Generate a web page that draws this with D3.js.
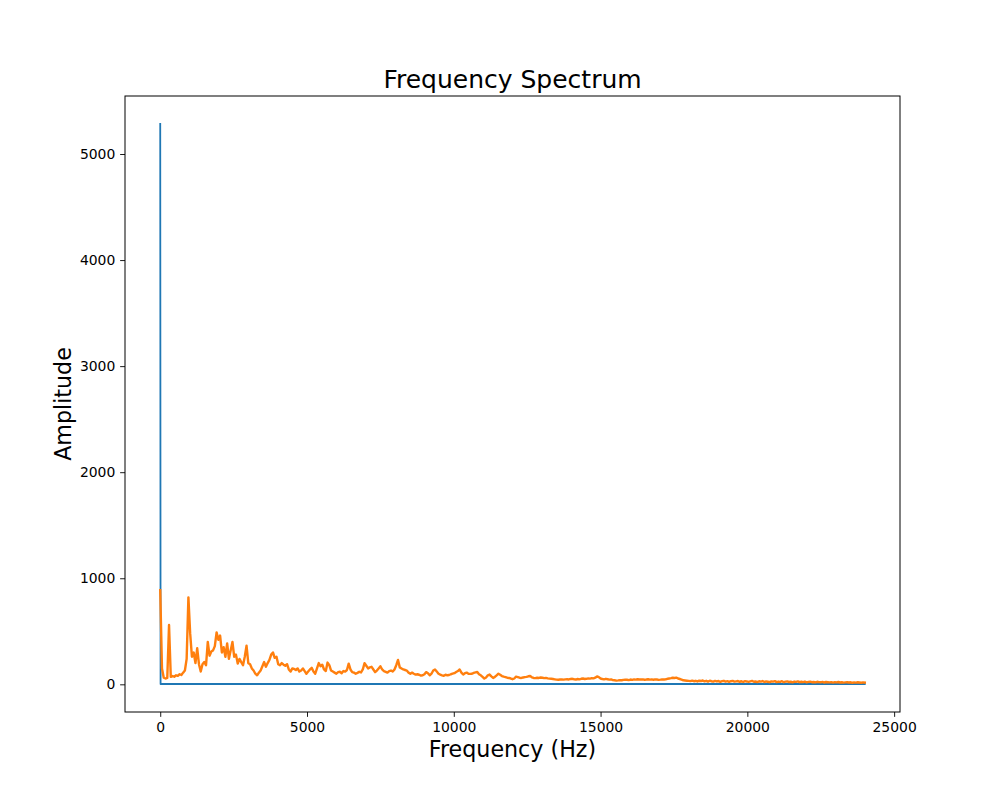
<!DOCTYPE html>
<html>
<head>
<meta charset="utf-8">
<script src="https://cdn.jsdelivr.net/npm/d3@7/dist/d3.min.js"></script>
<style>
  html, body { margin: 0; padding: 0; background: #fff; }
  svg { display: block; }
  text { font-family: "DejaVu Sans", sans-serif; fill: #000; }
</style>
</head>
<body>
<svg id="chart" width="1000" height="800"></svg>
<script>
// ---- Data ----
const title = "Frequency Spectrum";
const xLabel = "Frequency (Hz)";
const yLabel = "Amplitude";
const xTicks = [0, 5000, 10000, 15000, 20000, 25000];
const yTicks = [0, 1000, 2000, 3000, 4000, 5000];

// Blue series: DC spike then flat near zero
const blueFreq = [0, 12, 24000];
const blueAmp = [5283, 3, 3];

// Orange series: amplitude per 60 Hz bin, 0 .. 24000 Hz
const orangeBinHz = 60;
const orangeAmp = [
  887,150,62,55,60,560,70,78,72,85,80,95,88,110,130,240,820,480,260,300,
  200,340,190,120,190,210,180,400,270,310,320,360,490,420,460,300,350,260,385,240,
  320,400,260,280,195,240,210,180,260,365,200,190,150,130,100,85,110,130,170,210,
  165,200,230,280,300,250,260,190,180,200,185,175,190,140,120,150,145,135,150,120,
  130,150,125,100,120,140,155,120,100,150,200,170,185,140,125,205,180,130,120,110,
  100,115,118,105,125,120,135,195,140,115,110,100,108,118,112,140,200,175,150,160,
  165,140,115,130,150,170,140,125,118,110,125,130,120,140,180,230,160,150,140,135,
  130,110,100,110,100,92,95,90,82,85,95,115,105,85,100,130,140,120,100,92,
  85,80,90,85,88,95,100,105,116,125,140,110,92,105,110,100,98,100,108,112,
  116,95,85,70,55,65,85,92,75,60,70,85,100,90,78,72,68,62,60,55,
  48,55,72,68,62,60,64,68,70,76,78,66,60,58,62,60,64,62,58,60,
  56,54,52,50,47,44,43,45,46,44,47,48,46,50,52,48,45,50,47,52,
  55,50,52,56,54,58,56,62,75,68,55,50,47,52,48,44,46,40,38,35,
  37,40,38,42,44,43,40,45,42,46,44,48,45,47,46,43,45,48,44,46,
  43,47,45,42,44,47,45,48,52,55,58,62,60,63,55,50,45,38,36,34,
  32,30,35,29,33,27,34,31,36,28,33,26,34,29,25,32,27,31,24,30,
  33,26,30,23,29,32,25,28,31,24,29,22,30,27,23,28,32,24,27,21,
  29,25,31,22,27,24,20,28,25,30,21,26,23,29,20,25,27,22,24,19,
  26,23,28,20,24,21,26,19,23,25,20,22,18,24,21,19,23,17,22,20,
  18,21,16,20,18,22,17,19,16,18,20,17,19,15,18,16,19,17,15,18,
  16
];

// ---- Layout (matplotlib default 10x8 figure) ----
const W = 1000, H = 800;
const margin = { left: 125, right: 100, top: 96, bottom: 88 };
const x0 = margin.left, x1 = W - margin.right;
const y0 = margin.top, y1 = H - margin.bottom;

const orange = orangeAmp.map((v, i) => ({ f: i * orangeBinHz, a: v }));
const blue = blueFreq.map((f, i) => ({ f: f, a: blueAmp[i] }));

const allF = orange.map(d => d.f).concat(blue.map(d => d.f));
const allA = orange.map(d => d.a).concat(blue.map(d => d.a));
const fMin = d3.min(allF), fMax = d3.max(allF);
const aMin = d3.min(allA), aMax = d3.max(allA);
const fPad = (fMax - fMin) * 0.05, aPad = (aMax - aMin) * 0.05;

const x = d3.scaleLinear().domain([fMin - fPad, fMax + fPad]).range([x0, x1]);
const y = d3.scaleLinear().domain([aMin - aPad, aMax + aPad]).range([y1, y0]);

const svg = d3.select("#chart");
svg.append("rect").attr("width", W).attr("height", H).attr("fill", "#fff");

svg.append("clipPath").attr("id", "clip")
  .append("rect").attr("x", x0).attr("y", y0).attr("width", x1 - x0).attr("height", y1 - y0);

const line = d3.line().x(d => x(d.f)).y(d => y(d.a));
const plot = svg.append("g").attr("clip-path", "url(#clip)");
plot.append("path").datum(blue).attr("d", line)
  .attr("fill", "none").attr("stroke", "#1f77b4").attr("stroke-width", 1.8)
  .attr("stroke-linejoin", "round").attr("stroke-linecap", "square");
plot.append("path").datum(orange).attr("d", line)
  .attr("fill", "none").attr("stroke", "#ff7f0e").attr("stroke-width", 2.4)
  .attr("stroke-linejoin", "round").attr("stroke-linecap", "square");

// Axes
const tickLen = 4.86, tickPad = 4.86;
const xAxis = d3.axisBottom(x).tickValues(xTicks).tickFormat(d3.format("d"))
  .tickSizeInner(tickLen).tickSizeOuter(0).tickPadding(tickPad);
const yAxis = d3.axisLeft(y).tickValues(yTicks).tickFormat(d3.format("d"))
  .tickSizeInner(tickLen).tickSizeOuter(0).tickPadding(tickPad);

const gx = svg.append("g").attr("transform", `translate(0,${y1})`).call(xAxis);
const gy = svg.append("g").attr("transform", `translate(${x0},0)`).call(yAxis);
[gx, gy].forEach(g => {
  g.select(".domain").remove();
  g.selectAll(".tick line").attr("stroke", "#000").attr("stroke-width", 0.9);
  g.selectAll(".tick text").attr("font-size", "13.9px")
    .attr("font-family", "DejaVu Sans, sans-serif").attr("fill", "#000");
});

// Frame
svg.append("rect").attr("x", x0).attr("y", y0).attr("width", x1 - x0).attr("height", y1 - y0)
  .attr("fill", "none").attr("stroke", "#000").attr("stroke-width", 1);

// Labels
svg.append("text").attr("x", (x0 + x1) / 2).attr("y", y0 - 8.5)
  .attr("text-anchor", "middle").attr("font-size", "25px").text(title);
svg.append("text").attr("x", (x0 + x1) / 2).attr("y", 757)
  .attr("text-anchor", "middle").attr("font-size", "22.2px").text(xLabel);
svg.append("text").attr("transform", `translate(71,${(y0 + y1) / 2}) rotate(-90)`)
  .attr("text-anchor", "middle").attr("font-size", "22.2px").text(yLabel);
</script>
</body>
</html>
